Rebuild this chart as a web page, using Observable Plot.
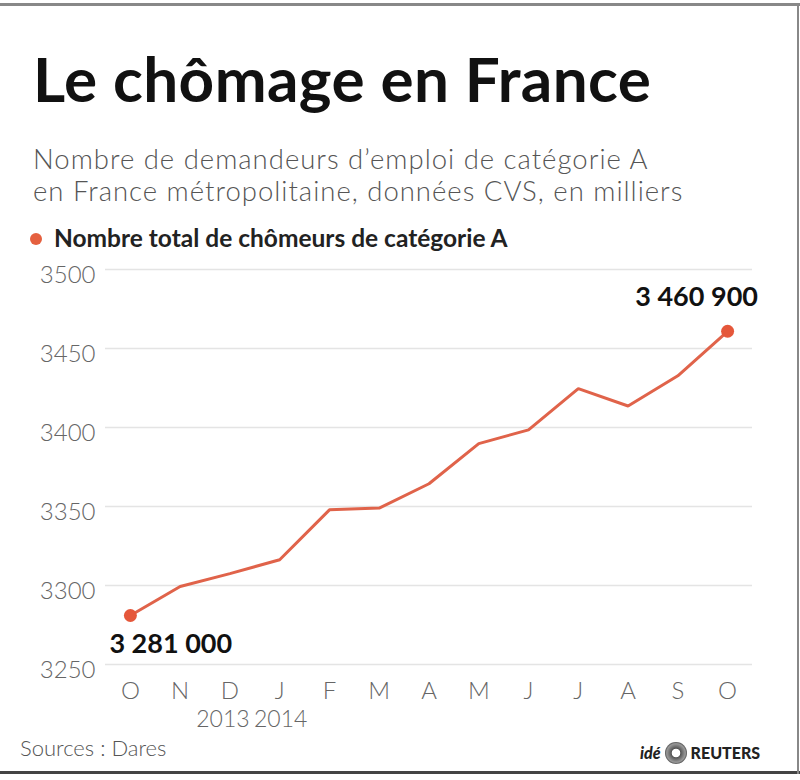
<!DOCTYPE html>
<html><head><meta charset="utf-8">
<script src="https://cdn.jsdelivr.net/npm/d3@7"></script>
<script src="https://cdn.jsdelivr.net/npm/@observablehq/plot@0.6"></script>
<style>
html,body{margin:0;padding:0;background:#fff;}
#wrap{position:relative;width:800px;height:780px;overflow:hidden;font-family:Lato,"Open Sans",sans-serif;}
.abs{position:absolute;white-space:nowrap;}
#title{left:33px;top:41px;font-size:62px;font-weight:700;color:#111;line-height:1.2;letter-spacing:0.4px;}
.sub{left:33px;font-size:27.5px;font-weight:300;color:#555;line-height:33px;letter-spacing:1px;}
#sub1{top:142px;}
#sub2{top:174px;}
#legend{left:30px;top:223px;font-size:24.5px;font-weight:700;color:#222;line-height:1.2;}
#legend .dot{display:inline-block;width:12px;height:12px;border-radius:50%;background:#e5603f;margin-right:12px;vertical-align:2px;}
#src{left:20px;top:735px;font-size:22px;font-weight:300;color:#555;line-height:1.2;}
#logo{left:640px;top:742px;font-size:16px;font-weight:900;color:#222;line-height:20px;}
#logo .g{display:inline-block;width:22px;height:22px;border-radius:50%;background:radial-gradient(circle,#fff 25%,#555 30%,#999 60%,#333 75%);vertical-align:-5px;margin:0 4px;}
#chart{position:absolute;left:0;top:255px;}
#topb{position:absolute;left:0;top:3px;width:800px;height:3px;background:#888;}
#botb{position:absolute;left:0;top:771px;width:800px;height:3px;background:#444;}
#rb{position:absolute;left:797px;top:3px;width:2px;height:771px;background:#888;}
</style></head>
<body><div id="wrap">
<div id="topb"></div><div id="botb"></div><div id="rb"></div>
<div id="title" class="abs">Le chômage en France</div>
<div id="sub1" class="abs sub">Nombre de demandeurs d’emploi de catégorie A</div>
<div id="sub2" class="abs sub">en France métropolitaine, données CVS, en milliers</div>
<div id="legend" class="abs"><span class="dot"></span>Nombre total de chômeurs de catégorie A</div>
<div id="chart"></div>
<div id="src" class="abs">Sources : Dares</div>
<div id="logo" class="abs"><i>idé</i><span class="g"></span>REUTERS</div>
</div>
<script>
const months = ["O","N","D","J","F","M","A","M","J","J","A","S","O"];
const values = [3281.0, 3299.4, 3307.5, 3316.3, 3347.9, 3349.0, 3364.4, 3389.8, 3398.5, 3424.6, 3413.6, 3432.7, 3460.9];
const yTicks = [3250, 3300, 3350, 3400, 3450, 3500];
const yearLabels = ["2013", "2014"];
const yearIndex = [2, 3];
const endLabels = ["3 281 000", "3 460 900"];

const data = values.map((v, i) => ({i, v, m: months[i]}));
const first = data[0], last = data[data.length - 1];
const red = "#e0634a";
const axisStyle = {fontSize: 24, fontWeight: 300, fill: "#666"};

const chart = Plot.plot({
  width: 800,
  height: 480,
  marginTop: 14,
  marginBottom: 71,
  marginLeft: 105,
  marginRight: 48,
  style: {fontFamily: "Lato, sans-serif", background: "transparent"},
  x: {domain: [-0.5, months.length - 0.5], axis: null},
  y: {domain: [3250, 3500], axis: null},
  marks: [
    Plot.ruleY(yTicks, {x1: -0.5, x2: months.length - 0.5, stroke: "#e4e4e4", strokeWidth: 1.5}),
    Plot.text(yTicks, {y: d => d, text: d => String(d), frameAnchor: "left", lineAnchor: "middle", textAnchor: "end", dx: -10, dy: 6, ...axisStyle}),
    Plot.text(data, {x: "i", text: "m", frameAnchor: "bottom", lineAnchor: "middle", dy: 27, ...axisStyle}),
    Plot.text([0], {x: () => yearIndex[0], text: () => yearLabels[0], frameAnchor: "bottom", lineAnchor: "middle", dy: 55, dx: -7, ...axisStyle, fontSize: 23}),
    Plot.text([1], {x: () => yearIndex[1], text: () => yearLabels[1], frameAnchor: "bottom", lineAnchor: "middle", dy: 55, dx: 1, ...axisStyle, fontSize: 23}),
    Plot.line(data, {x: "i", y: "v", stroke: red, strokeWidth: 3, strokeLinejoin: "miter"}),
    Plot.dot([first, last], {x: "i", y: "v", r: 6.5, fill: "#e5573a", stroke: "none"}),
    Plot.text([first], {x: "i", y: "v", text: () => endLabels[0], textAnchor: "start", dx: -21, dy: 29, fontSize: 27, fontWeight: 700, fill: "#111"}),
    Plot.text([last], {x: "i", y: "v", text: () => endLabels[1], textAnchor: "middle", dx: -31, dy: -34, fontSize: 27, fontWeight: 700, fill: "#111"})
  ]
});
document.getElementById("chart").appendChild(chart);
</script>
</body></html>
